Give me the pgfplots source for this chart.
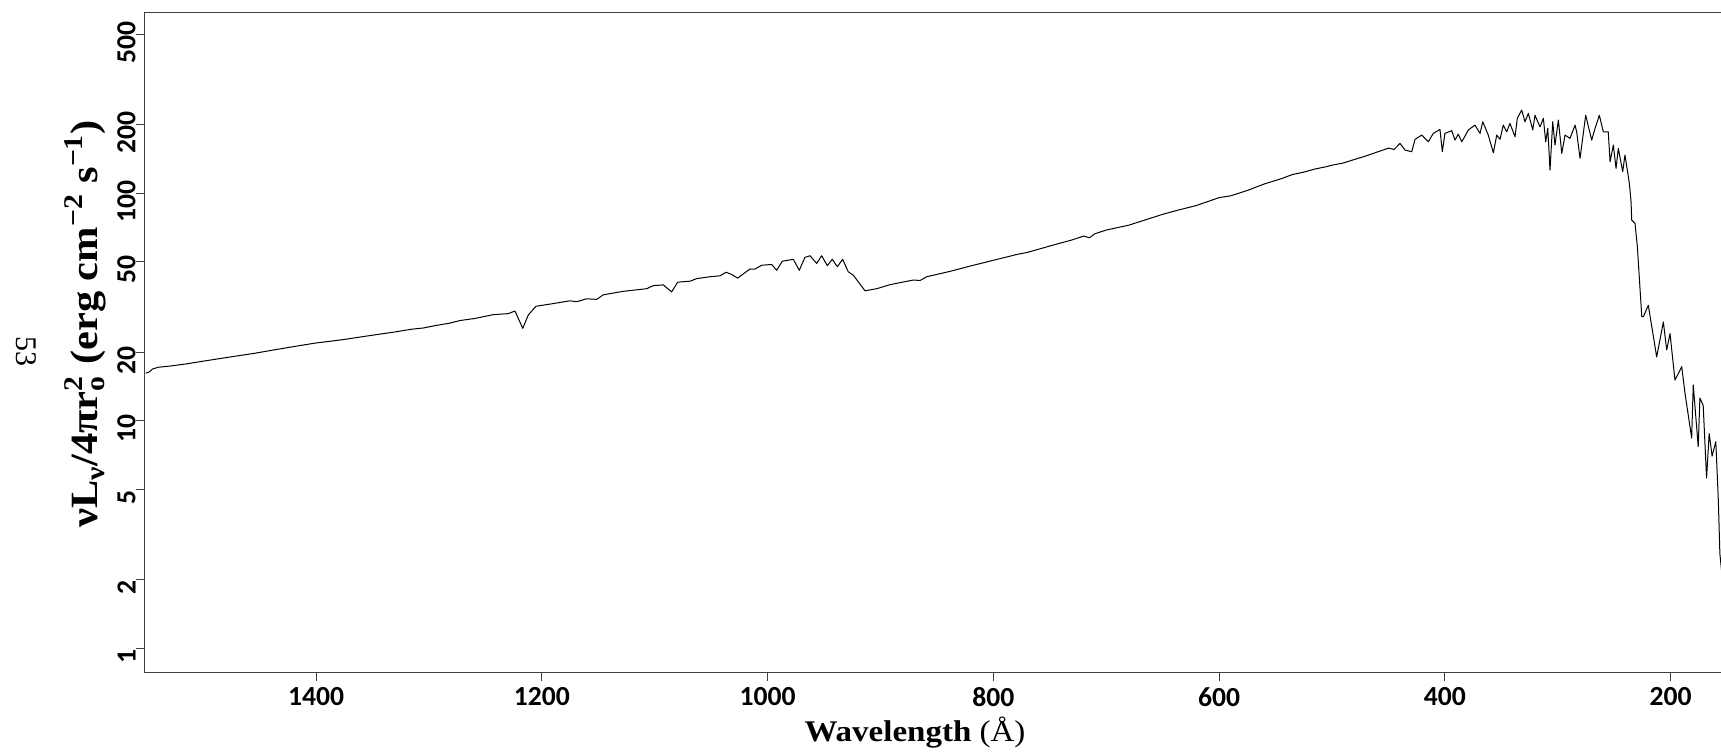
\documentclass[border=0pt]{standalone}
\usepackage{fontspec}
\setmainfont{Liberation Serif}[FakeStretch=1.1]
\newfontfamily\tickfont{Carlito}
\newfontfamily\plainserif{Liberation Serif}
\usepackage{pgfplots}
\pgfplotsset{compat=1.18}
\pgfplotstableread{
lam v
1551 16.2
1548 16.4
1545 16.9
1540 17.2
1530 17.4
1515 17.8
1500 18.3
1485 18.8
1470 19.3
1455 19.8
1440 20.4
1425 21.0
1410 21.6
1400 22.0
1390 22.3
1375 22.8
1360 23.4
1345 24.0
1330 24.6
1315 25.3
1305 25.6
1295 26.2
1281.5 26.9
1272.6 27.6
1259.3 28.2
1243.1 29.3
1229.8 29.6
1223.9 30.4
1217 25.5
1212.1 29.2
1205.3 31.9
1192.9 32.6
1175.2 33.7
1169.2 33.4
1160.4 34.4
1151.5 34.2
1145.7 35.8
1128 37.1
1107.2 38.1
1101.4 39.3
1092.5 39.6
1085.1 36.9
1079.7 40.7
1068.8 41.1
1062.9 42.2
1051.1 43.0
1042.3 43.4
1036.9 45.0
1031.9 44.0
1026.6 42.4
1018.6 45.4
1015.7 46.5
1011.3 46.5
1005.3 48.3
996.5 48.7
992 45.9
987.1 50.3
977.3 51.3
972 45.9
967 52.3
962.5 53.2
956.6 49.2
952.2 53.2
947.2 48.1
942.8 51.3
938.3 47.6
933.6 51.3
928.6 45.2
924.2 43.7
913.8 37.3
903.4 38.1
891.6 39.7
870.9 41.6
865 41.4
859.1 43.0
838.5 45.4
820 48.0
800 50.8
785 53.0
780 53.8
770 55.0
750 58.7
730 62.5
720 64.9
715 63.8
710 66.5
700 69.0
680 72.5
660 78.0
650 80.9
640 83.5
620 88.5
600 95.8
590 97.5
575 103
560 110
545 116
535 121
525 124
515 128
505 131
500 133
490 136
480 141
470 146
460 152
450 158
445 156
439.8 165.9
435.4 155
429.4 152.4
426.5 172.8
420.6 180.4
414.7 168.6
410.3 183.5
404.4 191
402.3 152.4
400 183.5
394 188.6
391.1 171.5
388.2 182
385.1 168.6
382.2 178.6
379.3 190
373.4 199.6
368.9 183.5
366.5 206.4
361.6 180.4
357.1 150.8
354.1 180.4
351.2 172.8
348.3 199.6
345.3 186.5
342.4 203.1
337.9 177.4
335.9 213.7
332 232.4
329.1 206.4
326.1 224.7
322.2 190
320.2 220.6
315.8 196
312.8 213.7
310.7 168.6
308.9 193
306.9 126.6
304.5 206.4
302.5 163.1
299.5 210
296.5 149.9
293.6 180.4
289.2 174.5
284.7 199.6
283.3 186.5
280.3 142.5
275.3 220.6
270 171.5
267 193
263.2 220.6
259.7 186.5
255.3 186.5
253.7 137.7
250.8 163.1
248.4 128.8
246.4 157.7
242.5 124.5
240.5 147.4
237.5 118.3
236.6 110.6
235.1 91.8
234.5 76.3
231.6 73.8
229.5 58.2
225.6 28.7
224.2 28.7
219.8 32.2
212.4 19.1
206.5 27.2
203.5 20.5
200.6 24.2
196.2 15.1
190.2 17.3
187.3 13.2
181.4 8.4
180 14.4
175.6 7.7
174.1 12.6
171.2 11.7
168.2 5.6
165.9 8.8
163.3 7.0
160 8.1
157.8 4.5
156.4 2.6
154.3 2.05
}\spec
\begin{document}
\begin{tikzpicture}
\path[use as bounding box] (0,0) rectangle (860.5pt,376pt);
\begin{axis}[
  at={(72.5pt,40pt)}, anchor=south west,
  scale only axis, width=788.75pt, height=330pt,
  ymode=log, x dir=reverse,
  xmin=154.1, xmax=1551.7, ymin=0.787, ymax=627,
  xtick={200,400,600,800,1000,1200,1400},
  xticklabels={200,400,600,800,1000,1200,1400},
  ytick={1,2,5,10,20,50,100,200,500},
  yticklabels={1,2,5,10,20,50,100,200,500},
  yminorticks=false, xminorticks=false,
  xtick pos=bottom, ytick pos=left,
  tick align=outside, major tick length=4.5pt,
  axis line style={black!75, line width=0.5pt},
  tick style={black!75, line width=0.5pt},
  ticklabel style={font=\tickfont\bfseries\fontsize{13.8}{16}\selectfont},
  yticklabel style={rotate=90, anchor=south, inner sep=0pt, xshift=-4pt},
  xticklabel style={anchor=north, inner sep=0pt, yshift=-3pt},
]
\addplot[black, line width=0.5pt, line join=round] table[x=lam, y=v] {\spec};
\end{axis}
\node[anchor=base, font=\fontsize{15}{18}\selectfont] at (457.5pt,5.15pt) {\bfseries Wavelength \mdseries(Å)};
\node[rotate=90, anchor=base, font=\fontsize{19.3}{22}\selectfont\bfseries] at (49pt,214pt)
  {νL\textsubscript{ν}/4πr\rlap{\textsubscript{o}}\textsuperscript{2} (erg cm\textsuperscript{−2} s\textsuperscript{−1})};
\node[rotate=-90, font=\plainserif\fontsize{15}{18}\selectfont] at (13.25pt,200.5pt) {53};
\end{tikzpicture}
\end{document}
